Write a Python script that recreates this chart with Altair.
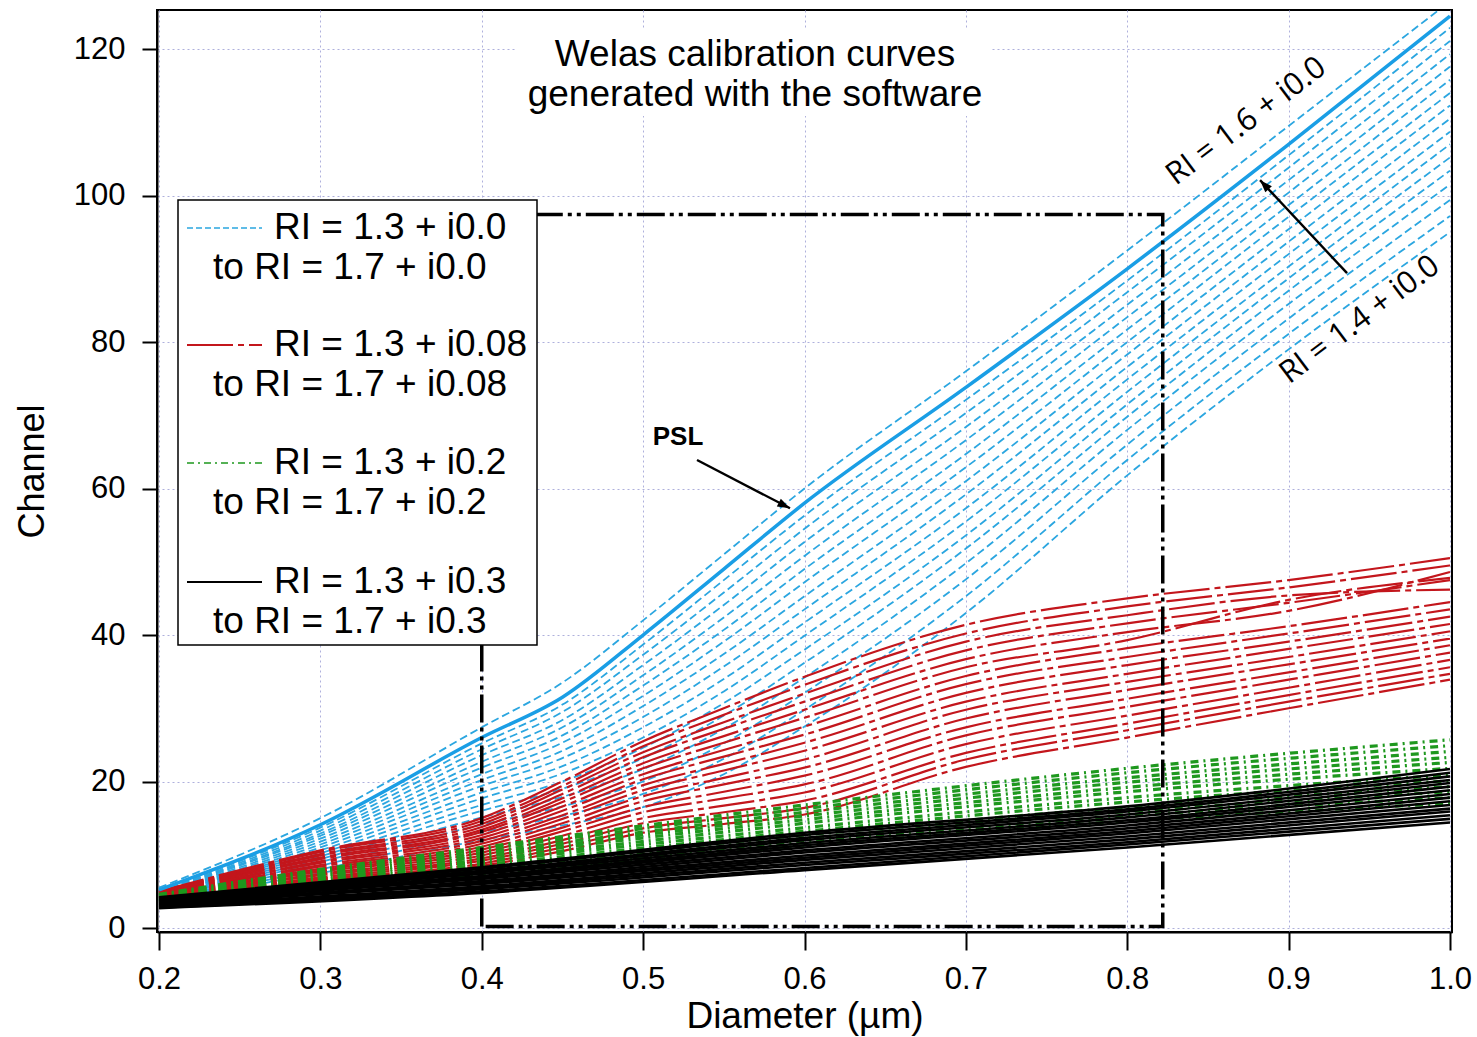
import altair as alt
import pandas as pd

FONT = "Liberation Sans"

# ---------------- data ----------------
DIAM = [0.2, 0.3, 0.4, 0.45, 0.5, 0.55, 0.6, 0.7, 0.8, 0.9, 1.0]

PSL = [5.2, 14.1, 26.0, 31.5, 40.0, 49.0, 58.0, 73.8, 90.0, 107.0, 124.5]

BLUE = [
    [5.5, 15.0, 27.4, 33.5, 42.0, 51.0, 60.0, 76.0, 92.5, 109.5, 126.5],
    [5.1, 13.7, 25.2, 30.5, 38.7, 47.5, 56.3, 72.1, 88.4, 105.5, 122.9],
    [5.0, 13.3, 24.4, 29.5, 37.3, 45.8, 54.5, 70.3, 86.8, 103.8, 121.1],
    [5.0, 12.9, 23.6, 28.4, 35.9, 44.1, 52.7, 68.4, 85.1, 102.1, 119.3],
    [4.9, 12.6, 22.7, 27.4, 34.5, 42.4, 50.8, 66.6, 83.4, 100.4, 117.6],
    [4.8, 12.2, 21.9, 26.3, 33.1, 40.7, 49.0, 64.7, 81.7, 98.7, 115.8],
    [4.7, 11.8, 21.0, 25.3, 31.7, 39.1, 47.2, 62.9, 80.0, 97.1, 114.0],
    [4.6, 11.4, 20.2, 24.2, 30.3, 37.4, 45.3, 61.0, 78.3, 95.4, 112.3],
    [4.5, 11.0, 19.4, 23.2, 28.8, 35.7, 43.5, 59.2, 76.6, 93.7, 110.5],
    [4.5, 10.6, 18.5, 22.1, 27.4, 34.0, 41.7, 57.3, 74.9, 92.0, 108.7],
    [4.4, 10.2, 17.7, 21.1, 26.0, 32.3, 39.9, 55.5, 73.2, 90.3, 107.0],
    [4.3, 9.8, 16.8, 20.0, 24.6, 30.7, 38.0, 53.6, 71.5, 88.7, 105.2],
    [4.2, 9.4, 16.0, 19.0, 23.2, 29.0, 36.2, 51.8, 69.8, 87.0, 103.4],
    [4.1, 9.0, 15.1, 17.9, 21.7, 27.2, 34.2, 49.8, 68.0, 85.2, 101.5],
    [4.0, 8.5, 14.1, 16.6, 20.0, 25.2, 32.1, 47.6, 66.0, 83.2, 99.4],
    [3.9, 8.0, 13.1, 15.3, 18.3, 23.1, 29.8, 45.3, 63.9, 81.1, 97.2],
    [3.8, 7.5, 12.0, 14.0, 16.5, 21.0, 27.5, 43.0, 61.8, 79.0, 95.0],
]

RED = [
    [5.0, 10.6, 15.0, 20.0, 25.5, 30.0, 34.3, 41.4, 45.0, 47.5, 50.5],
    [4.9, 10.4, 14.6, 19.4, 24.8, 29.1, 33.2, 40.2, 43.9, 46.5, 49.5],
    [4.9, 10.1, 14.2, 18.9, 24.0, 28.1, 32.0, 39.1, 42.7, 45.4, 46.2],
    [4.8, 9.9, 13.8, 18.3, 23.3, 27.2, 30.9, 37.9, 41.6, 44.4, 47.5],
    [4.8, 9.6, 13.4, 17.7, 22.5, 26.2, 29.8, 36.7, 40.4, 43.3, 48.6],
    [4.7, 9.4, 13.1, 17.2, 21.8, 25.3, 28.7, 35.6, 39.3, 44.8, 47.8],
    [4.6, 9.1, 12.7, 16.6, 21.0, 24.3, 27.5, 34.4, 38.2, 41.2, 44.5],
    [4.6, 8.9, 12.3, 16.0, 20.3, 23.4, 26.4, 33.3, 37.0, 40.2, 43.5],
    [4.5, 8.6, 11.9, 15.4, 19.5, 22.4, 25.3, 32.1, 35.9, 39.1, 42.5],
    [4.5, 8.4, 11.5, 14.9, 18.8, 21.5, 24.2, 30.9, 34.7, 38.1, 41.5],
    [4.4, 8.1, 11.1, 14.3, 18.0, 20.5, 23.0, 29.8, 33.6, 37.0, 40.5],
    [4.3, 7.9, 10.7, 13.7, 17.3, 19.6, 21.9, 28.6, 32.5, 36.0, 39.5],
    [4.3, 7.7, 10.3, 13.2, 16.5, 18.6, 20.8, 27.4, 31.3, 34.9, 38.6],
    [4.2, 7.4, 9.9, 12.6, 15.8, 17.7, 19.6, 26.3, 30.2, 33.9, 37.6],
    [4.2, 7.2, 9.5, 12.0, 15.0, 16.7, 18.5, 25.1, 29.0, 32.8, 36.6],
    [4.1, 6.9, 9.2, 11.5, 14.3, 15.8, 17.4, 23.9, 27.9, 31.8, 35.6],
    [4.1, 6.7, 8.8, 11.0, 13.6, 15.0, 16.4, 23.0, 27.0, 30.9, 34.7],
    [4.0, 6.5, 8.5, 10.5, 13.0, 14.2, 15.5, 22.0, 26.0, 30.0, 33.9],
]

DIAM_GREEN = [0.2, 0.3, 0.4, 0.6, 0.8, 1.0]
GREEN = [
    [4.6, 8.0, 11.0, 16.8, 21.8, 25.7],
    [4.5, 7.8, 10.7, 16.3, 21.2, 24.9],
    [4.4, 7.6, 10.3, 15.8, 20.5, 24.1],
    [4.3, 7.3, 10.0, 15.3, 19.9, 23.3],
    [4.2, 7.1, 9.7, 14.8, 19.2, 22.6],
    [4.1, 6.9, 9.3, 14.3, 18.6, 21.8],
    [4.0, 6.6, 9.0, 13.7, 17.8, 20.9],
    [3.9, 6.4, 8.6, 13.2, 17.2, 20.1],
    [3.8, 6.2, 8.3, 12.7, 16.5, 19.3],
    [3.7, 6.0, 8.0, 12.2, 15.9, 18.6],
    [3.6, 5.7, 7.6, 11.7, 15.3, 17.8],
    [3.5, 5.5, 7.3, 11.2, 14.6, 17.0],
]

DIAM_BLACK = [0.2, 0.4, 0.6, 0.8, 1.0]
BLACK = [
    [4.2, 8.3, 13.0, 16.6, 21.7],
    [4.1, 8.1, 12.7, 16.2, 21.2],
    [4.0, 7.8, 12.3, 15.9, 20.7],
    [3.9, 7.6, 12.0, 15.5, 20.2],
    [3.8, 7.4, 11.6, 15.1, 19.8],
    [3.7, 7.1, 11.3, 14.7, 19.3],
    [3.6, 6.9, 11.0, 14.4, 18.8],
    [3.5, 6.7, 10.6, 14.0, 18.3],
    [3.4, 6.4, 10.3, 13.6, 17.8],
    [3.3, 6.2, 9.9, 13.2, 17.3],
    [3.2, 6.0, 9.6, 12.9, 16.8],
    [3.1, 5.7, 9.3, 12.5, 16.3],
    [3.0, 5.5, 8.9, 12.1, 15.9],
    [2.9, 5.3, 8.6, 11.7, 15.4],
    [2.8, 5.0, 8.2, 11.4, 14.9],
    [2.7, 4.8, 7.9, 11.0, 14.4],
]

RECT_X = [0.4, 0.4, 0.822, 0.822, 0.4]
RECT_Y = [0.2, 97.4, 97.4, 0.2, 0.2]

X_TICKS = [0.2, 0.3, 0.4, 0.5, 0.6, 0.7, 0.8, 0.9, 1.0]
Y_TICKS = [0, 20, 40, 60, 80, 100, 120]

LEGEND_LINES = [
    ("RI = 1.3 + i0.0", "to RI = 1.7 + i0.0"),
    ("RI = 1.3 + i0.08", "to RI = 1.7 + i0.08"),
    ("RI = 1.3 + i0.2", "to RI = 1.7 + i0.2"),
    ("RI = 1.3 + i0.3", "to RI = 1.7 + i0.3"),
]


def to_long(xs, curves, fam):
    rows = []
    for i, c in enumerate(curves):
        for x, y in zip(xs, c):
            rows.append({"d": x, "ch": y, "curve": f"{fam}{i}"})
    return pd.DataFrame(rows)


blue_df = to_long(DIAM, BLUE, "b")
psl_df = to_long(DIAM, [PSL], "psl")
red_df = to_long(DIAM, RED, "r")
green_df = to_long(DIAM_GREEN, GREEN, "g")
black_df = to_long(DIAM_BLACK, BLACK, "k")
rect_df = pd.DataFrame({"d": RECT_X, "ch": RECT_Y, "o": list(range(len(RECT_X)))})

# ---------------- scales / axes ----------------
xscale = alt.Scale(domain=[0.19876, 1.00124], nice=False, zero=False)
yscale = alt.Scale(domain=[-0.546, 125.33], nice=False, zero=False)

grid_col = "#aeb0dc"
xaxis = alt.Axis(values=X_TICKS, format=".1f", labelFontSize=31, labelFont=FONT,
                 labelColor="black", labelPadding=14, labelFlush=False, labelOverlap=False,
                 tickSize=18, tickWidth=2, tickColor="black",
                 domainColor="black", domainWidth=2,
                 grid=True, gridColor=grid_col, gridDash=[2, 3], gridWidth=1,
                 title="Diameter (\u00b5m)", titleFont=FONT, titleFontSize=37,
                 titleFontWeight="normal", titleColor="black", titlePadding=4)
yaxis = alt.Axis(values=Y_TICKS, format="d", labelFontSize=31, labelFont=FONT,
                 labelColor="black", labelPadding=17, labelFlush=False, labelOverlap=False,
                 tickSize=15, tickWidth=2, tickColor="black",
                 domainColor="black", domainWidth=2,
                 grid=True, gridColor=grid_col, gridDash=[2, 3], gridWidth=1,
                 title="Channel", titleFont=FONT, titleFontSize=36,
                 titleFontWeight="normal", titleColor="black", titlePadding=22)

X = alt.X("d:Q", scale=xscale, axis=xaxis)
Y = alt.Y("ch:Q", scale=yscale, axis=yaxis)


def curves(df, color, width, dash=None):
    kw = dict(color=color, strokeWidth=width, clip=True, interpolate="monotone")
    if dash is not None:
        kw["strokeDash"] = dash
    return alt.Chart(df).mark_line(**kw).encode(x=X, y=Y, detail="curve:N")


BLUE_C = "#2ba6e0"
RED_C = "#c3161c"
GREEN_C = "#1e981e"

blue = curves(blue_df, BLUE_C, 1.8, [8, 4])
psl = curves(psl_df, "#1a9ee5", 3.5)
red = curves(red_df, RED_C, 2.2, [46, 5, 6, 5])
green = curves(green_df, GREEN_C, 3.2, [8, 5, 2, 5])
black = curves(black_df, "black", 2.6)

rect = alt.Chart(rect_df).mark_line(color="black", strokeWidth=3.5,
                                    strokeDash=[28, 5, 4, 5, 4, 5], clip=True).encode(
    x=X, y=Y, order="o:Q")

# ---------------- annotations (data coordinates) ----------------
arrow_df = pd.DataFrame({
    "d": [0.5334, 0.9362], "ch": [63.9, 89.4],
    "d2": [0.5910, 0.8823], "ch2": [57.3, 102.1],
    "ang": [117, 317],
})
arrows = alt.Chart(arrow_df).mark_rule(color="black", strokeWidth=2.4).encode(
    x=X, y=Y, x2="d2:Q", y2="ch2:Q")
heads = alt.Chart(arrow_df).mark_point(
    shape="M0,0L-0.5,1.4L0.5,1.4Z", filled=True, color="black", opacity=1, size=320
).encode(x=alt.X("d2:Q", scale=xscale, axis=xaxis), y=alt.Y("ch2:Q", scale=yscale, axis=yaxis),
         angle=alt.Angle("ang:Q", scale=None))

psl_lab = alt.Chart(pd.DataFrame({"d": [0.5216], "ch": [67.0]})).mark_text(
    text="PSL", fontSize=26, fontWeight="bold", font=FONT, color="black").encode(x=X, y=Y)

ri_df = pd.DataFrame({"d": [0.8739, 0.9442], "ch": [110.1, 83.0],
                      "t": ["RI = 1.6 + i0.0", "RI = 1.4 + i0.0"]})
ri_lab = alt.Chart(ri_df).mark_text(angle=323, fontSize=31, font="Open Sans",
                                    color="black").encode(x=X, y=Y, text="t:N")

one = pd.DataFrame({"k": [0]})

title_box = alt.Chart(one).mark_rect(color="white").encode(
    x=alt.value(358), x2=alt.value(834), y=alt.value(18), y2=alt.value(106))
title1 = alt.Chart(one).mark_text(text="Welas calibration curves", fontSize=37, font=FONT,
                                  color="black", align="center", baseline="middle").encode(
    x=alt.value(598), y=alt.value(45))
title2 = alt.Chart(one).mark_text(text="generated with the software", fontSize=37, font=FONT,
                                  color="black", align="center", baseline="middle").encode(
    x=alt.value(598), y=alt.value(85))

# ---------------- hand-drawn legend box ----------------
leg_box = alt.Chart(one).mark_rect(fill="white", stroke="black", strokeWidth=1.5).encode(
    x=alt.value(21), x2=alt.value(380), y=alt.value(190), y2=alt.value(635))

leg_rows = [218, 335, 453, 572]
leg_styles = [
    dict(color=BLUE_C, strokeWidth=1.6, strokeDash=[6, 3]),
    dict(color=RED_C, strokeWidth=2.0, strokeDash=[46, 5, 6, 5]),
    dict(color=GREEN_C, strokeWidth=1.6, strokeDash=[7, 4, 2, 4]),
    dict(color="black", strokeWidth=1.8),
]
leg_layers = [leg_box]
for (l1, l2), yy, st in zip(LEGEND_LINES, leg_rows, leg_styles):
    leg_layers.append(alt.Chart(one).mark_rule(**st).encode(
        x=alt.value(30), x2=alt.value(105), y=alt.value(yy)))
    leg_layers.append(alt.Chart(one).mark_text(text=l1, fontSize=37, font=FONT, color="black",
                                               align="left", baseline="middle").encode(
        x=alt.value(117), y=alt.value(yy)))
    leg_layers.append(alt.Chart(one).mark_text(text=l2, fontSize=37, font=FONT, color="black",
                                               align="left", baseline="middle").encode(
        x=alt.value(56), y=alt.value(yy + 40)))

chart = alt.layer(
    blue, red, green, black, psl, rect, arrows, heads, psl_lab, ri_lab,
    title_box, title1, title2, *leg_layers
).properties(
    width=1295, height=922,
    autosize=alt.AutoSizeParams(type="none"),
    padding={"left": 157, "top": 10, "right": 25, "bottom": 105},
    background="white",
).configure_view(stroke="black", strokeWidth=2)

chart.save("out.html", embed_options={"renderer": "svg", "actions": False})
